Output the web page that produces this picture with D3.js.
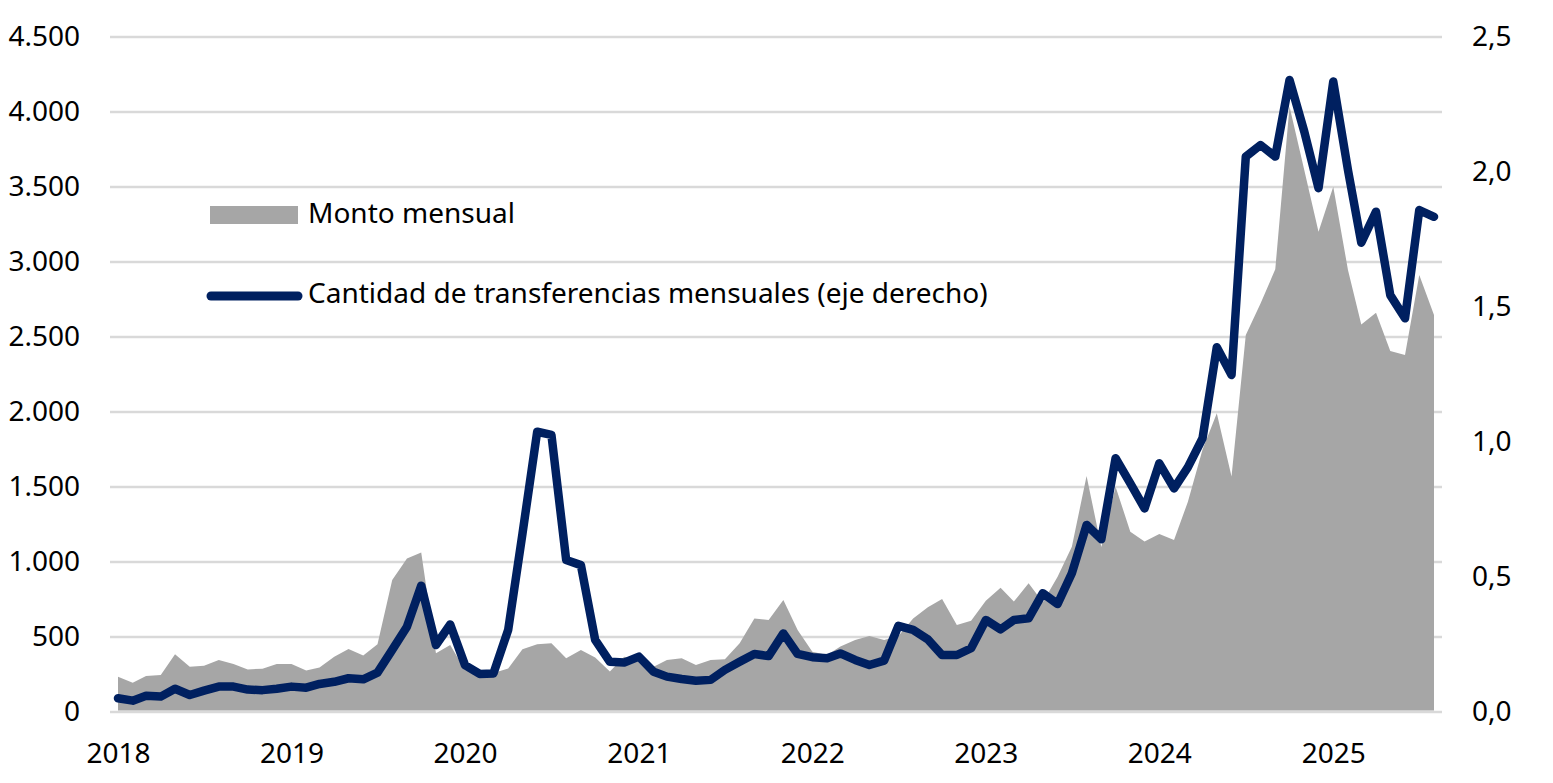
<!DOCTYPE html>
<html>
<head>
<meta charset="utf-8">
<script src="https://d3js.org/d3.v7.min.js"></script>
<title>Monto y cantidad de transferencias mensuales</title>
</head>
<style>
body {
  margin: 0;
  background: white;
}
svg {
  display: block;
}
text {
  font-family: "Noto Sans", sans-serif;
  font-size: 28px;
  fill: black;
}
</style>
<body>
  <svg width="1553" height="783"></svg>
</body>
<script>

// monthly data, jan 2018 - aug 2025
let startMonth = new Date(2018, 0, 1);

let montoMensual = [
  235, 195, 240, 247, 385, 302, 309, 347, 320, 284, 289, 320,
  320, 276, 296, 369, 420, 376, 451, 880, 1024, 1064, 391, 447,
  280, 250, 260, 290, 418, 451, 458, 358, 413, 364, 270, 369,
  347, 302, 347, 358, 313, 347, 351, 458, 624, 613, 747, 547,
  402, 380, 436, 480, 507, 480, 507, 624, 698, 753, 580, 609,
  742, 829, 736, 858, 731, 902, 1102, 1573, 1100, 1502, 1202, 1136,
  1187, 1147, 1400, 1750, 1991, 1570, 2513, 2724, 2951, 4036, 3613, 3202,
  3502, 2947, 2584, 2662, 2407, 2380, 2913, 2647
];

let cantidadMensual = [
  0.051, 0.042, 0.060, 0.057, 0.086, 0.063, 0.079, 0.094, 0.094, 0.083, 0.081, 0.086,
  0.094, 0.090, 0.104, 0.112, 0.125, 0.121, 0.146, 0.230, 0.316, 0.468, 0.248, 0.324,
  0.174, 0.141, 0.143, 0.304, 0.660, 1.038, 1.026, 0.563, 0.544, 0.267, 0.186, 0.183,
  0.205, 0.149, 0.131, 0.122, 0.116, 0.119, 0.156, 0.186, 0.215, 0.207, 0.291, 0.215,
  0.203, 0.199, 0.217, 0.193, 0.174, 0.190, 0.319, 0.304, 0.269, 0.211, 0.211, 0.236,
  0.341, 0.306, 0.341, 0.347, 0.440, 0.400, 0.514, 0.693, 0.640, 0.940, 0.847, 0.754,
  0.921, 0.828, 0.906, 1.014, 1.351, 1.248, 2.057, 2.100, 2.057, 2.341, 2.150, 1.940,
  2.335, 2.007, 1.738, 1.853, 1.544, 1.458, 1.859, 1.834
];

let leftTicks = [0, 500, 1000, 1500, 2000, 2500, 3000, 3500, 4000, 4500];
let rightTicks = [0, 0.5, 1.0, 1.5, 2.0, 2.5];
let yearTicks = [2018, 2019, 2020, 2021, 2022, 2023, 2024, 2025];

let legendLabels = ["Monto mensual", "Cantidad de transferencias mensuales (eje derecho)"];

let areaColor = "#a6a6a6";
let lineColor = "#002060";
let gridColor = "#d9d9d9";

let esLocale = d3.formatLocale({decimal: ",", thousands: ".", grouping: [3], currency: ["$", ""]});
let fmtLeft = esLocale.format(",.0f");
let fmtRight = esLocale.format(",.1f");

let data = montoMensual.map(function(m, i) {
  return {
    date: d3.timeMonth.offset(startMonth, i),
    monto: m,
    cantidad: cantidadMensual[i]
  };
});

let svg = d3.select("svg");

let x = d3.scaleTime()
  .domain([startMonth, d3.timeMonth.offset(startMonth, data.length - 1)])
  .range([118, 1434]);

let yLeft = d3.scaleLinear().domain([0, 4500]).range([712, 37]);
let yRight = d3.scaleLinear().domain([0, 2.5]).range([712, 37]);

function drawGrid() {
  svg.append("g").selectAll("line")
    .data(leftTicks)
    .enter().append("line")
      .attr("x1", 110)
      .attr("x2", 1442)
      .attr("y1", function(d) { return yLeft(d); })
      .attr("y2", function(d) { return yLeft(d); })
      .attr("stroke", gridColor)
      .attr("stroke-width", 2.5);
}

function drawAxes() {
  // left axis
  let left = d3.axisLeft(yLeft).tickValues(leftTicks).tickFormat(fmtLeft).tickSize(0).tickPadding(0);
  svg.append("g")
    .attr("transform", "translate(80,0)")
    .call(left)
    .call(function(g) { g.select(".domain").remove(); })
    .selectAll("text")
      .attr("dy", "0.3em");

  // right axis
  let right = d3.axisRight(yRight).tickValues(rightTicks).tickFormat(fmtRight).tickSize(0).tickPadding(0);
  svg.append("g")
    .attr("transform", "translate(1472,0)")
    .call(right)
    .call(function(g) { g.select(".domain").remove(); })
    .selectAll("text")
      .attr("dy", "0.3em");

  // years
  let bottom = d3.axisBottom(x)
    .tickValues(yearTicks.map(function(y) { return new Date(y, 0, 1); }))
    .tickFormat(d3.timeFormat("%Y"))
    .tickSize(0)
    .tickPadding(0);
  svg.append("g")
    .attr("transform", "translate(0,743)")
    .call(bottom)
    .call(function(g) { g.select(".domain").remove(); })
    .selectAll("text")
      .attr("dy", "0.71em");

  svg.selectAll(".tick text")
    .attr("font-family", "Noto Sans, sans-serif")
    .attr("font-size", 27)
    .attr("fill", "black");
}

function drawArea() {
  let area = d3.area()
    .x(function(d) { return x(d.date); })
    .y0(yLeft(0) - 1.5)
    .y1(function(d) { return yLeft(d.monto); });

  svg.append("path")
    .datum(data)
    .attr("d", area)
    .attr("fill", areaColor);
}

function drawLine() {
  let line = d3.line()
    .x(function(d) { return x(d.date); })
    .y(function(d) { return yRight(d.cantidad); });

  svg.append("path")
    .datum(data)
    .attr("d", line)
    .attr("fill", "none")
    .attr("stroke", lineColor)
    .attr("stroke-width", 8.5)
    .attr("stroke-linejoin", "round")
    .attr("stroke-linecap", "round");
}

function drawLegend() {
  let g = svg.append("g");

  g.append("rect")
    .attr("x", 210)
    .attr("y", 206)
    .attr("width", 88)
    .attr("height", 18)
    .attr("fill", areaColor);

  g.append("line")
    .attr("x1", 211)
    .attr("x2", 298)
    .attr("y1", 296)
    .attr("y2", 296)
    .attr("stroke", lineColor)
    .attr("stroke-width", 9)
    .attr("stroke-linecap", "round");

  g.selectAll("text")
    .data(legendLabels)
    .enter().append("text")
      .attr("x", 308)
      .attr("y", function(d, i) { return i == 0 ? 223 : 303; })
      .text(function(d) { return d; });
}

function drawAll() {
  drawGrid();
  drawArea();
  drawLine();
  drawAxes();
  drawLegend();
}

drawAll();

</script>
</html>
